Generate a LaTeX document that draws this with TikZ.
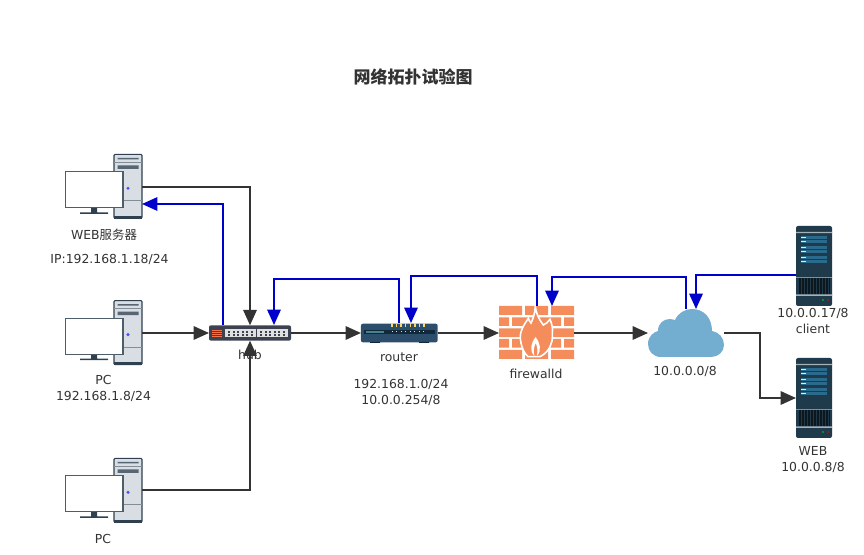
\documentclass[tikz,border=0pt]{standalone}
\usepackage{fontspec}
\usepackage{tikz}
\usetikzlibrary{positioning,arrows.meta,calc}
\setmainfont{DejaVu Sans}
\newfontfamily\cjkfont{Noto Sans CJK SC}
\definecolor{linegray}{HTML}{333333}
\definecolor{linkblue}{HTML}{0000CC}
\definecolor{towergray}{HTML}{D8DEE3}
\definecolor{pcdark}{HTML}{2F4050}
\definecolor{hubdark}{HTML}{3D4250}
\definecolor{routerblue}{HTML}{2C4D6C}
\definecolor{routerstrip}{HTML}{12293A}
\definecolor{brick}{HTML}{F48D5B}
\definecolor{cloudblue}{HTML}{73ADD0}
\definecolor{serverdark}{HTML}{1F3A4B}
\definecolor{serverbar}{HTML}{2A6A8C}
\tikzset{
  flowarrow/.style={-{Triangle[length=11.5pt,width=10pt]}, line width=1.5pt, linegray},
  bluearrow/.style={-{Triangle[length=11.5pt,width=10pt]}, line width=1.5pt, linkblue},
  devnode/.style={inner sep=0pt, outer sep=0pt},
  lab/.style={font=\fontsize{9.3pt}{11pt}\selectfont, text=linegray, inner sep=0pt, align=center},
  titlelab/.style={font=\cjkfont\bfseries\fontsize{12.75pt}{15pt}\selectfont, text=linegray, inner sep=0pt},
  pcicon/.pic={
    % drawn around the centre of the tower
    \fill[towergray, draw=pcdark, line width=0.8pt, rounded corners=0.8pt] (-14,-32) rectangle (14,32);
    \fill[pcdark] (-14,29.5) rectangle (14,32.5);
    \draw[pcdark!60, line width=0.6pt] (-14,-24) -- (14,-24) (-14,14.5) -- (14,14.5);
    \fill[pcdark!80] (-10.5,-28.5) rectangle (10.5,-27) (-10.5,-21) rectangle (10.5,-17.5);
    \fill[blue!70!white] (0,2) circle (1.7);
    \fill[pcdark] (-37,21.5) rectangle (-31,26) (-48,26) rectangle (-20,27.5);
    \fill[white, draw=pcdark!85, line width=0.8pt] (-62.5,-14.5) rectangle (-5,21.5);
  },
  servericon/.pic={
    \fill[serverdark, rounded corners=1.5pt] (-18,-40) rectangle (18,40);
    \fill[white!60!serverdark] (-18,-34) rectangle (18,-32.8) (-18,28.5) rectangle (18,30);
    \foreach \yy in {-28,-24.5,-18,-14.5,-8,-4.5}{
      \fill[serverbar] (-13,\yy-1.5) rectangle (13,\yy+1.5);
      \fill[white!85!serverbar] (-13,\yy-0.5) rectangle (-8.5,\yy+0.5);
    }
    \foreach \xx in {-15,-13.5,...,15}{
      \fill[black!60!serverdark] (\xx-0.4,12) rectangle (\xx+0.4,28);
    }
    \draw[serverbar!70, line width=0.4pt] (-18,11) -- (18,11);
    \fill[green!50!serverdark] (9,34) circle (1.1);
    \fill[red!60!serverdark] (14,34) circle (1.1);
  },
}
\begin{document}
\begin{tikzpicture}[x=0.75pt, y=-0.75pt]
  \useasboundingbox (0,0) rectangle (864,555);

  % computers on the left
  \pic at (128,186.3) {pcicon};
  \pic at (128,332.6) {pcicon};
  \pic at (128,490.3) {pcicon};
  \node[devnode, minimum width=21pt, minimum height=48pt] (pc1) at (128,187) {};
  \node[devnode, minimum width=21pt, minimum height=48pt] (pc2) at (128,333) {};
  \node[devnode, minimum width=21pt, minimum height=48pt] (pc3) at (128,490.5) {};

  % hub
  \node[devnode, fill=hubdark, rounded corners=1.5pt, minimum width=61.5pt, minimum height=11.5pt] (hub) at (250,333) {};
  \foreach \xx in {0,...,4}{
    \foreach \yy in {0,...,3}{
      \fill[brick!80!red] (212.3+\xx*2,329.6+\yy*2) rectangle ++(1.3,1.3);
    }
  }
  \foreach \xs/\xe in {225/256,257/288}{
    \fill[white!88!black] (\xs,329.5) rectangle (\xe,337.5);
    \foreach \xx in {1,...,6}{
      \fill[hubdark] ({\xs+\xx*(\xe-\xs)/7-1},331) rectangle ++(2,2);
      \fill[hubdark] ({\xs+\xx*(\xe-\xs)/7-1},334) rectangle ++(2,2);
    }
  }

  % router
  \node[devnode, fill=routerblue, rounded corners=1.5pt, minimum width=57.5pt, minimum height=14pt] (router) at (399.3,333) {};
  \fill[routerstrip] (370,342) rectangle (380,343) (419,342) rectangle (429,343);
  \fill[routerstrip] (364,329.7) rectangle (435,334.2);
  \fill[routerblue!50!teal!80!white] (366,331) rectangle (384,333);
  \foreach \ii in {0,...,7}{
    \fill[brick!50!yellow!70!white] (392+\ii*4.57-0.7,323.5) rectangle (392+\ii*4.57+0.7,327.3);
    \fill[white!80!routerblue] (392+\ii*4.57-0.5,331.5) rectangle (392+\ii*4.57+0.5,332.5);
  }

  % firewall
  \node[devnode, minimum width=56.25pt, minimum height=40pt] (firewall) at (536.5,333) {};
  \foreach \yy in {306,328.3,350}{
    \fill[brick] (499,\yy) rectangle (522,\yy+8.8) (525,\yy) rectangle (548,\yy+8.8) (551,\yy) rectangle (574,\yy+8.8);
  }
  \foreach \yy in {317.3,339}{
    \fill[brick] (499,\yy) rectangle (509,\yy+8.7) (512,\yy) rectangle (535,\yy+8.7) (538,\yy) rectangle (561,\yy+8.7) (564,\yy) rectangle (574,\yy+8.7);
  }
  \fill[brick, draw=white, line width=1.2pt] (535.3,306.7) .. controls (536,312) and (538,318) .. (543.3,325)
    .. controls (546,324) and (548,322) .. (550,319.3) .. controls (552,324) and (553,329) .. (552.3,333)
    .. controls (552.5,340) and (552,343) .. (550,346.7) .. controls (548,351) and (545,354) .. (540,356.7)
    -- (528,356.7) .. controls (524,353) and (522,348) .. (521,343)
    .. controls (520,338) and (520,334) .. (521.7,330) .. controls (523,326) and (526,322) .. (528.3,318.3)
    .. controls (529,320) and (530,322) .. (531,323) .. controls (533,319) and (535,313) .. (535.3,306.7) -- cycle;
  \fill[white] (534.3,356) .. controls (529,350) and (531,343) .. (535.7,337)
    .. controls (540,343) and (542,350) .. (537,356) .. controls (538,350) and (537,346) .. (535.7,343)
    .. controls (534,347) and (533,351) .. (534.3,356) -- cycle;

  % cloud
  \node[devnode, minimum width=57pt, minimum height=36pt] (cloud) at (686,333) {};
  \fill[cloudblue] (661,357) .. controls (653,357) and (648,351) .. (648,344)
    .. controls (648,336) and (654,332) .. (658,331) .. controls (658,323) and (664,319) .. (670,319)
    .. controls (672,319) and (673,319) .. (675,320) .. controls (678,313) and (685,309) .. (692,309)
    .. controls (704,309) and (712,318) .. (712,331) .. controls (719,332) and (724,338) .. (724,345)
    .. controls (724,352) and (718,357) .. (711,357) -- cycle;

  % servers
  \pic at (814,266) {servericon};
  \pic at (814,398) {servericon};
  \node[devnode, minimum width=27pt, minimum height=60pt] (client) at (814,266) {};
  \node[devnode, minimum width=27pt, minimum height=60pt] (web) at (814,398) {};

  % labels
  \node[titlelab] (title) at (413,77) {网络拓扑试验图};
  \node[lab] (lab1) at (104,234.5) {WEB{\cjkfont 服务器}};
  \node[lab] (lab2) at (109.5,259.5) {IP:192.168.1.18/24};
  \node[lab] (lab3) at (103.5,388.5) {PC\\[1pt]192.168.1.8/24};
  \node[lab] (lab4) at (103,538.5) {PC};
  \node[lab] (lab5) at (250,355) {hub};
  \node[lab] (lab6) at (399,357.5) {router};
  \node[lab] (lab7) at (401,392) {192.168.1.0/24\\[1pt]10.0.0.254/8};
  \node[lab] (lab8) at (536,374) {firewalld};
  \node[lab] (lab9) at (685,371) {10.0.0.0/8};
  \node[lab] (lab10) at (813,321) {10.0.0.17/8\\[1pt]client};
  \node[lab] (lab11) at (813,460) {WEB\\[1pt]10.0.0.8/8};

  % ports used by the offset links
  \coordinate (hubup1) at (223,325);
  \coordinate (hubup2) at (274,325);
  \coordinate (pc1in) at (142,204);
  \coordinate (routerup1) at (399,323);
  \coordinate (routerup2) at (411,323);
  \coordinate (fwup1) at (537,306);
  \coordinate (fwup2) at (552,306);
  \coordinate (cloudup1) at (686,309);
  \coordinate (cloudup2) at (696,309);
  \coordinate (clientout) at (796,275);
  \coordinate (cloudout) at (724,333);

  % black links
  \draw[flowarrow] (pc1.east) -| (hub.north);
  \draw[flowarrow] (pc3.east) -| (hub.south);
  \draw[flowarrow] (pc2.east) -- (hub.west);
  \draw[flowarrow] (hub.east) -- (router.west);
  \draw[flowarrow] (router.east) -- (firewall.west);
  \draw[flowarrow] (firewall.east) -- (cloud.west);
  \draw[flowarrow] (cloudout) -- ++(36,0) |- (web.west);

  % blue links
  \draw[bluearrow] (hubup1) |- (pc1in);
  \draw[bluearrow] (routerup1) |- (274,279) -- (hubup2);
  \draw[bluearrow] (fwup1) |- (411,276) -- (routerup2);
  \draw[bluearrow] (cloudup1) |- (552,277) -- (fwup2);
  \draw[bluearrow] (clientout) -| (cloudup2);
\end{tikzpicture}
\end{document}
